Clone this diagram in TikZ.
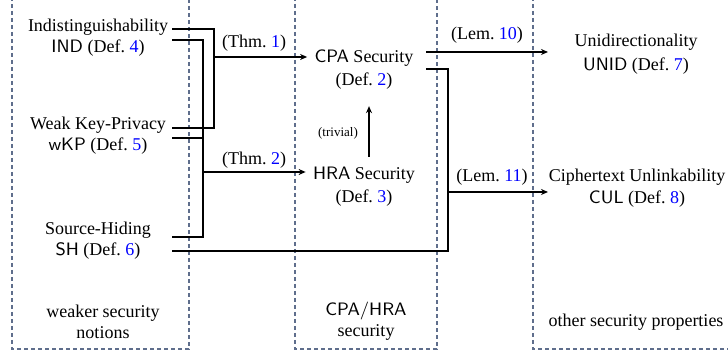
\documentclass[tikz,border=0pt]{standalone}
\usepackage{fontspec}
\setmainfont{Liberation Serif}
\usetikzlibrary{arrows.meta}

\definecolor{boxgray}{RGB}{95,110,140}
\definecolor{refblue}{RGB}{0,0,255}
\newcommand{\dref}[1]{\textcolor{refblue}{#1}}
\newcommand{\ntn}[1]{\textsf{#1}}

\begin{document}
\begin{tikzpicture}[x=0.5pt,y=-0.5pt,
  concept/.style={font=\fontsize{9}{10.5}\selectfont, align=center, inner sep=0pt},
  lab/.style={font=\fontsize{9}{10.5}\selectfont, inner sep=0pt, anchor=base},
  tiny/.style={font=\fontsize{6.5}{7}\selectfont, inner sep=0pt, anchor=base},
  area/.style={draw=boxgray, dash pattern=on 2pt off 1.5pt, line width=0.55pt},
  link/.style={line width=0.7pt},
  arr/.style={link, -{Stealth[length=3.5pt,width=3pt]}}]

\useasboundingbox (0,0) rectangle (728,356);
\clip (0,0) rectangle (728,356);

%% the three areas
\draw[area] (12,-10) rectangle (189,349);
\draw[area] (295,-10) rectangle (437,349);
\draw[area] (533,-10) rectangle (740,349);

%% weaker notions
  \node[concept] (ind) at (98,38) {Indistinguishability\\ \ntn{IND} (Def.~\dref{4})};
  \node[concept] (wkp) at (98,136) {Weak Key-Privacy\\ \ntn{wKP} (Def.~\dref{5})};
  \node[concept] (sh) at (98,241) {Source-Hiding\\ \ntn{SH} (Def.~\dref{6})};
  \node[concept] (weak) at (103,322) {weaker security\\ notions};

%% CPA / HRA
  \node[concept] (cpa) at (364,70) {\ntn{CPA} Security\\[1pt] (Def.~\dref{2})};
  \node[concept] (hra) at (364,187) {\ntn{HRA} Security\\[1pt] (Def.~\dref{3})};
  \node[concept] (cpahra) at (366,321) {\ntn{CPA/HRA}\\ security};

%% other properties
  \node[concept] (unid) at (636,54) {Unidirectionality\\[1.5pt] \ntn{UNID} (Def.~\dref{7})};
  \node[concept] (cul) at (637,188) {Ciphertext Unlinkability\\[0.5pt] \ntn{CUL} (Def.~\dref{8})};
  \node[lab] (other) at (636,327) {other security properties};

%% ends of the connectors
  \coordinate (ind-o1) at (172,29);
  \coordinate (ind-o2) at (172,40);
  \coordinate (wkp-o1) at (172,128);
  \coordinate (wkp-o2) at (172,138);
  \coordinate (sh-o1) at (172,237);
  \coordinate (sh-o2) at (172,251);
  \coordinate (cpa-o1) at (426,52);
  \coordinate (cpa-o2) at (426,69);
  \coordinate (j1) at (214,57);
  \coordinate (j2) at (203,172);
  \coordinate (j3) at (448,192);
  \coordinate (unid-in) at (548,52);
  \coordinate (cul-in) at (548,192);

  \draw[link] (ind-o1) -| (j1) |- (wkp-o1);
  \draw[arr, shorten >=3.5pt] (j1) -- (j1 -| cpa.west);
  \node[lab] (thm1) at (254,48) {(Thm.~\dref{1})};

  \draw[link] (ind-o2) -| (j2) |- (sh-o1);
  \draw[link] (wkp-o2) -- (wkp-o2 -| j2);
  \draw[arr, shorten >=3.5pt] (j2) -- (j2 -| hra.west);
  \node[lab] (thm2) at (254,165) {(Thm.~\dref{2})};

  \draw[arr, shorten <=5pt, shorten >=8pt] ([xshift=2.5pt]hra.north) -- ([xshift=2.5pt]cpa.south);
  \node[tiny] (triv) at (338,137) {(trivial)};

  \draw[arr] (cpa-o1) -- (unid-in);
  \node[lab] (lem10) at (487,40) {(Lem.~\dref{10})};

  \draw[link] (cpa-o2) -| (j3) |- (sh-o2);
  \draw[arr] (j3) -- (cul-in);
  \node[lab] (lem11) at (492,182) {(Lem.~\dref{11})};
\end{tikzpicture}
\end{document}
